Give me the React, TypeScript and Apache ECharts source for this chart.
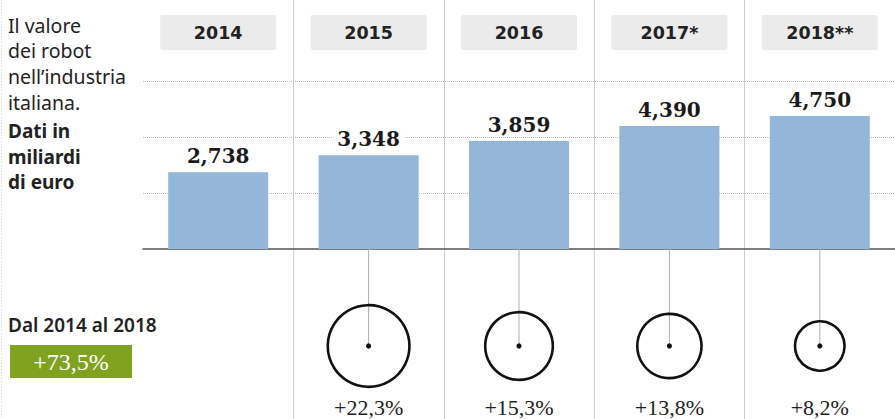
import React, { useEffect, useRef } from "react";
import * as echarts from "echarts";

const years = ["2014", "2015", "2016", "2017*", "2018**"];
const values = [2.738, 3.348, 3.859, 4.39, 4.75];
const valueLabels = ["2,738", "3,348", "3,859", "4,390", "4,750"];
const growthIndex = [1, 2, 3, 4];
const growth = [22.3, 15.3, 13.8, 8.2];
const growthLabels = ["+22,3%", "+15,3%", "+13,8%", "+8,2%"];
const introLines = ["Il valore", "dei robot", "nell\u2019industria", "italiana."];
const boldLines = ["Dati in", "miliardi", "di euro"];
const totalTitle = "Dal 2014 al 2018";
const totalValue = "+73,5%";

const SANS = "'DejaVu Sans', sans-serif";
const NOTO = "'Noto Sans', sans-serif";
const SERIF = "'Liberation Serif', serif";

export default function App() {
  const ref = useRef<HTMLDivElement>(null);
  useEffect(() => {
    if (!ref.current) return;
    const chart = echarts.init(ref.current, undefined, { renderer: "svg" });
    const lh = 25.7;
    const textEls: any[] = [];
    introLines.forEach((t, i) => {
      textEls.push({
        type: "text",
        x: 8,
        y: 25 + i * lh,
        style: {
          text: t,
          fontFamily: NOTO,
          fontSize: 19.5,
          fill: "#222",
          verticalAlign: "middle",
        },
      });
    });
    boldLines.forEach((t, i) => {
      textEls.push({
        type: "text",
        x: 8,
        y: 131 + i * lh,
        style: {
          text: t,
          fontFamily: NOTO,
          fontSize: 19,
          fontWeight: "bold",
          fill: "#222",
          verticalAlign: "middle",
        },
      });
    });
    const growthData = growthIndex.map((c, i) => [c, 0, growth[i], i]);
    chart.setOption({
      animation: false,
      backgroundColor: "#fff",
      grid: [
        { left: 143, right: 0, top: 53, bottom: 170, outerBoundsMode: "none" },
        { left: 143, right: 0, top: 0, bottom: 0, outerBoundsMode: "none" },
        { left: 143, right: 0, top: 249, height: 194, outerBoundsMode: "none" },
      ],
      xAxis: [
        {
          gridIndex: 0,
          type: "category",
          data: years,
          position: "bottom",
          axisLine: { show: true, lineStyle: { color: "#555", width: 1.5 } },
          axisTick: { show: false },
          axisLabel: { show: false },
        },
        {
          gridIndex: 0,
          type: "category",
          data: years,
          position: "top",
          axisLine: { show: false },
          axisTick: { show: false },
          axisLabel: {
            show: true,
            margin: 3,
            backgroundColor: "#ebebeb",
            borderRadius: 2,
            width: 116,
            height: 35,
            lineHeight: 35,
            align: "center",
            fontFamily: SANS,
            fontWeight: "bold",
            fontSize: 17.5,
            color: "#222",
          },
        },
        {
          gridIndex: 1,
          type: "category",
          data: years,
          axisLine: { show: false },
          axisTick: { show: false },
          axisLabel: { show: false },
          splitLine: {
            show: true,
            showMinLine: false,
            showMaxLine: false,
            lineStyle: { color: "#cccccc", width: 1 },
          },
        },
        {
          gridIndex: 2,
          type: "category",
          data: years,
          axisLine: { show: false },
          axisTick: { show: false },
          axisLabel: { show: false },
        },
      ],
      yAxis: [
        {
          gridIndex: 0,
          type: "value",
          min: 0,
          max: 7,
          interval: 2,
          axisLine: { show: false },
          axisTick: { show: false },
          axisLabel: { show: false },
          splitLine: {
            show: true,
            showMinLine: false,
            showMaxLine: false,
            lineStyle: { color: "#bbbbbb", type: "dotted", width: 1 },
          },
        },
        { gridIndex: 1, type: "value", show: false, min: 0, max: 1 },
        { gridIndex: 2, type: "value", show: false, min: -1, max: 1 },
      ],
      series: [
        {
          type: "bar",
          xAxisIndex: 0,
          yAxisIndex: 0,
          data: values,
          barWidth: 100,
          itemStyle: { color: "#93b6d9" },
          label: {
            show: true,
            position: "top",
            distance: 6,
            formatter: (p: any) => valueLabels[p.dataIndex],
            fontFamily: "'DejaVu Serif', serif",
            fontWeight: "bold",
            fontSize: 20,
            color: "#1a1a1a",
            backgroundColor: "#fff",
            padding: [0, 4],
          },
        },
        {
          type: "custom",
          xAxisIndex: 3,
          yAxisIndex: 2,
          encode: { x: 0, y: 1 },
          data: growthData,
          clip: false,
          renderItem: (params: any, api: any) => {
            const c = api.value(0);
            const g = api.value(2);
            const li = api.value(3);
            const pt = api.coord([c, 0]);
            const cx = pt[0];
            const cy = pt[1];
            const r = Math.sqrt(g) * 8.65;
            const top = params.coordSys.y;
            return {
              type: "group",
              children: [
                {
                  type: "line",
                  shape: { x1: cx, y1: top, x2: cx, y2: cy },
                  style: { stroke: "#b0b0b0", lineWidth: 1 },
                },
                {
                  type: "circle",
                  shape: { cx, cy, r },
                  style: { fill: "none", stroke: "#111", lineWidth: 2.6 },
                },
                {
                  type: "circle",
                  shape: { cx, cy, r: 2.6 },
                  style: { fill: "#111" },
                },
                {
                  type: "text",
                  x: cx,
                  y: cy + 61,
                  style: {
                    text: growthLabels[li],
                    align: "center",
                    verticalAlign: "middle",
                    fontFamily: SERIF,
                    fontSize: 22,
                    fill: "#222",
                  },
                },
              ],
            };
          },
        },
      ],
      graphic: [
        {
          type: "line",
          shape: { x1: 1.5, y1: 0, x2: 1.5, y2: 419 },
          style: { stroke: "#cfcfcf", lineWidth: 1, lineDash: [1, 2] },
        },
        ...textEls,
        {
          type: "text",
          x: 8,
          y: 325,
          style: {
            text: totalTitle,
            fontFamily: NOTO,
            fontSize: 19,
            fontWeight: 600,
            fill: "#222",
            verticalAlign: "middle",
          },
        },
        {
          type: "rect",
          shape: { x: 10, y: 345, width: 122, height: 33 },
          style: { fill: "#80a31f" },
        },
        {
          type: "text",
          x: 71,
          y: 361.5,
          style: {
            text: totalValue,
            align: "center",
            verticalAlign: "middle",
            fontFamily: SERIF,
            fontSize: 24,
            fill: "#fff",
          },
        },
      ],
    });
    return () => chart.dispose();
  }, []);
  return (
    <div
      ref={ref}
      style={{ position: "fixed", left: 0, top: 0, width: 895, height: 419 }}
    />
  );
}
